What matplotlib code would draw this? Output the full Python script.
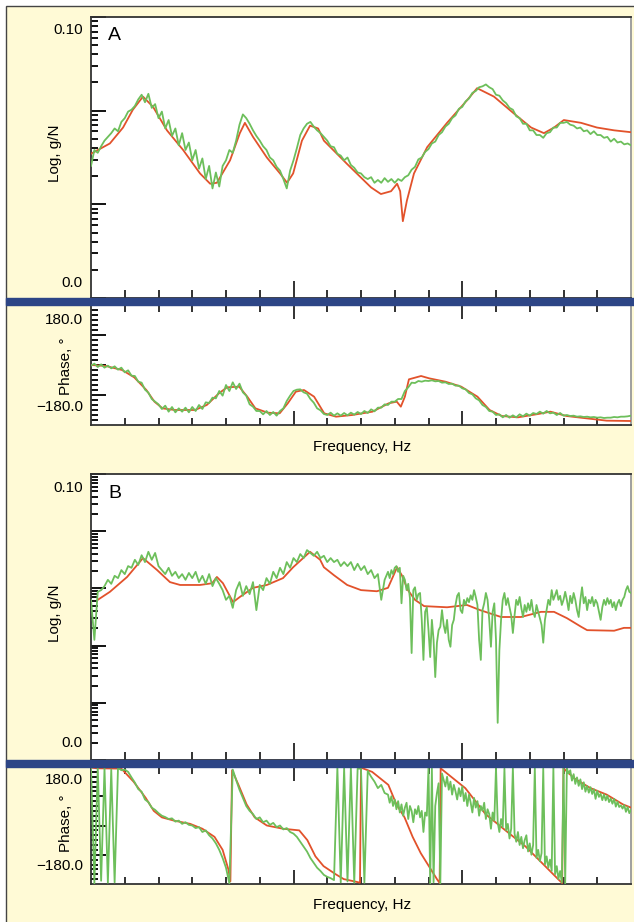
import numpy as np
import matplotlib.pyplot as plt
from matplotlib.patches import Rectangle
from matplotlib.ticker import FixedLocator, LogLocator, NullFormatter

plt.rcParams['font.family'] = ['Liberation Sans', 'DejaVu Sans']

W, H = 634, 922
CREAM = '#fffad6'
BAR = '#2d4586'
RED = '#e2522b'
GREEN = '#6dbf5b'
FRAME = '#333333'

# ---------------- panel A, magnitude (log10 of g/N) ----------------
freq_a_red = [0, 5.6, 9.5, 12.4, 15.4, 18.4, 22.5, 27.3, 32.3, 35.3,
              37.3, 41.2, 44.1, 45.6, 48.0, 52.1, 56.0, 58.1, 59.9, 62.5,
              64.9, 67.3, 69.0, 75.9, 83.0, 85.9, 88.9, 90.7, 91.6, 92.4,
              93.0, 93.6, 95.7, 99.6, 105.5, 111.4, 114.4, 119.4, 125.3, 130.4,
              134.2, 137.2, 140.1, 145.2, 149.9, 155.0, 160.0]
mag_a_red = [-2.46, -2.35, -2.18, -1.99, -1.85, -1.96, -2.21, -2.42, -2.67, -2.78,
             -2.77, -2.53, -2.24, -2.13, -2.28, -2.50, -2.67, -2.77, -2.67, -2.32,
             -2.16, -2.19, -2.32, -2.57, -2.82, -2.89, -2.86, -2.78, -2.86, -3.18,
             -3.07, -2.96, -2.67, -2.39, -2.13, -1.89, -1.76, -1.85, -2.03, -2.18,
             -2.24, -2.18, -2.10, -2.13, -2.18, -2.21, -2.23]

freq_a_green = np.arange(0, 161)
mag_a_green = [-2.59, -2.42, -2.45, -2.38, -2.32, -2.28, -2.24, -2.19, -2.22, -2.12,
               -2.08, -2.01, -1.99, -1.95, -1.88, -1.83, -1.91, -1.82, -1.97, -1.93,
               -2.08, -2.01, -2.19, -2.10, -2.27, -2.19, -2.37, -2.24, -2.42, -2.34,
               -2.53, -2.42, -2.62, -2.51, -2.73, -2.59, -2.83, -2.66, -2.81, -2.59,
               -2.53, -2.42, -2.45, -2.32, -2.15, -2.04, -2.08, -2.14, -2.21, -2.27,
               -2.32, -2.38, -2.42, -2.50, -2.53, -2.60, -2.64, -2.73, -2.83, -2.64,
               -2.53, -2.40, -2.26, -2.19, -2.14, -2.12, -2.17, -2.21, -2.24, -2.28,
               -2.32, -2.38, -2.39, -2.46, -2.48, -2.53, -2.50, -2.58, -2.61, -2.66,
               -2.67, -2.71, -2.73, -2.71, -2.77, -2.74, -2.77, -2.72, -2.76, -2.73,
               -2.77, -2.73, -2.75, -2.71, -2.69, -2.63, -2.60, -2.52, -2.50, -2.44,
               -2.41, -2.35, -2.33, -2.26, -2.23, -2.17, -2.14, -2.08, -2.05, -1.98,
               -1.96, -1.90, -1.87, -1.81, -1.79, -1.75, -1.74, -1.72, -1.75, -1.77,
               -1.83, -1.84, -1.89, -1.92, -1.97, -1.99, -2.06, -2.08, -2.14, -2.14,
               -2.21, -2.21, -2.26, -2.26, -2.29, -2.24, -2.23, -2.18, -2.18, -2.13,
               -2.13, -2.12, -2.15, -2.16, -2.19, -2.18, -2.22, -2.21, -2.25, -2.22,
               -2.26, -2.26, -2.29, -2.28, -2.33, -2.30, -2.34, -2.33, -2.36, -2.35,
               -2.37]

# ---------------- panel A, phase (degrees) ----------------
freq_pa_red = [0, 4.4, 9.2, 12.8, 16.4, 18.8, 21.2, 24.8, 30.8, 34.3,
               37.9, 40.3, 43.9, 46.3, 48.7, 52.3, 55.9, 58.3, 60.7, 63.1,
               66.1, 69.1, 72.6, 77.4, 83.4, 88.2, 90.6, 91.8, 93.0, 94.2,
               97.8, 100.2, 105.0, 109.7, 114.5, 118.1, 121.7, 126.5, 132.5, 136.1,
               140.9, 146.8, 152.8, 160.0]
phase_a_red = [0, -3, -15, -37, -75, -110, -130, -135, -135, -120,
               -85, -67, -65, -95, -130, -143, -145, -115, -80, -75,
               -95, -145, -155, -150, -140, -115, -110, -125, -95, -43,
               -33, -40, -50, -65, -95, -135, -153, -157, -147, -140,
               -153, -160, -167, -168]

phase_a_green = [-2, 4, -6, 2, -8, -2, -10, -4, -14, -8,
                 -22, -16, -32, -33, -50, -53, -74, -83, -102, -110,
                 -118, -132, -122, -140, -126, -142, -130, -140, -128, -142,
                 -126, -138, -120, -132, -112, -114, -98, -100, -78, -92,
                 -60, -78, -52, -72, -56, -82, -92, -118, -125, -138,
                 -138, -148, -138, -150, -141, -152, -138, -130, -108, -92,
                 -78, -74, -73, -82, -86, -102, -113, -130, -136, -147,
                 -150, -143, -152, -145, -152, -144, -151, -143, -149, -141,
                 -147, -138, -144, -133, -139, -128, -128, -118, -120, -110,
                 -110, -102, -102, -78, -67, -53, -54, -48, -50, -47,
                 -48, -46, -49, -48, -53, -52, -57, -56, -62, -62,
                 -70, -73, -84, -88, -100, -106, -120, -126, -138, -140,
                 -150, -148, -157, -150, -158, -151, -157, -148, -154, -146,
                 -152, -144, -147, -140, -146, -138, -145, -143, -150, -144,
                 -152, -150, -153, -152, -155, -154, -156, -155, -157, -156,
                 -158, -157, -159, -158, -158, -156, -157, -155, -155, -154,
                 -152]

# ---------------- panel B, magnitude (log10 of g/N) ----------------
freq_b_red = [2.0, 5.6, 10.7, 15.4, 19.6, 23.4, 26.4, 32.3, 35.9, 37.3,
              39.1, 42.1, 44.1, 48.0, 52.1, 56.9, 59.9, 64.9, 67.9, 69.0,
              72.0, 75.9, 80.0, 84.7, 88.0, 90.7, 92.1, 93.9, 96.0, 98.7,
              105.5, 111.4, 115.3, 121.5, 127.4, 133.3, 137.2, 141.0, 145.2, 147.0,
              155.0, 157.9, 160.0]
mag_b_red = [-3.20, -3.06, -2.80, -2.47, -2.68, -2.89, -2.94, -2.94, -2.91, -2.80,
             -2.91, -3.24, -3.15, -2.99, -2.94, -2.82, -2.63, -2.36, -2.50, -2.63,
             -2.77, -2.94, -3.03, -3.05, -2.99, -2.63, -2.77, -3.03, -3.20, -3.31,
             -3.33, -3.29, -3.38, -3.50, -3.50, -3.41, -3.41, -3.52, -3.67, -3.73,
             -3.74, -3.69, -3.69]

freq_b_green = np.concatenate([np.arange(0, 88), np.arange(88, 160.5, 0.5)])
mag_b_green = [-3.20, -3.90, -3.06, -3.03, -2.96, -2.85, -2.92, -2.78, -2.82, -2.68,
               -2.75, -2.61, -2.64, -2.50, -2.59, -2.42, -2.54, -2.36, -2.50, -2.38,
               -2.61, -2.68, -2.75, -2.64, -2.78, -2.71, -2.82, -2.75, -2.85, -2.73,
               -2.82, -2.71, -2.89, -2.78, -2.92, -2.75, -2.96, -2.82, -2.92, -3.03,
               -3.20, -3.13, -3.34, -3.03, -2.89, -3.13, -2.96, -3.10, -2.89, -3.38,
               -2.94, -3.03, -2.82, -2.92, -2.71, -2.82, -2.64, -2.75, -2.54, -2.64,
               -2.47, -2.54, -2.40, -2.47, -2.33, -2.38, -2.43, -2.36, -2.47, -2.43,
               -2.54, -2.47, -2.54, -2.50, -2.61, -2.54, -2.61, -2.54, -2.68, -2.57,
               -2.68, -2.61, -2.75, -2.68, -2.82, -2.75, -3.20, -2.85,
               # from 88 on, every half unit
               -2.71, -2.82, -2.68, -2.75, -2.64, -2.61, -2.71, -2.64, -3.26, -2.78,
               -2.85, -3.03, -2.92, -3.17, -4.13, -3.03, -2.98, -3.20, -3.10, -3.08,
               -3.55, -4.25, -3.41, -3.33, -3.73, -4.20, -3.55, -3.90, -4.55, -3.95,
               -3.73, -3.67, -3.38, -3.64, -3.78, -3.55, -3.90, -4.02, -3.64, -3.55,
               -3.29, -3.13, -3.08, -3.38, -3.43, -3.20, -3.29, -3.17, -3.24, -3.12,
               -3.20, -3.03, -3.15, -3.29, -3.90, -4.25, -3.38, -3.26, -3.08, -3.20,
               -3.55, -4.02, -3.41, -3.26, -3.90, -5.35, -4.08, -3.55, -3.20, -3.08,
               -3.29, -3.17, -3.33, -3.47, -3.78, -3.47, -3.20, -3.29, -3.15, -3.34,
               -3.50, -3.29, -3.41, -3.26, -3.38, -3.20, -3.41, -3.50, -3.29, -3.41,
               -3.52, -3.64, -3.95, -3.55, -3.38, -3.20, -3.29, -3.03, -3.20, -3.12,
               -3.03, -3.20, -3.13, -3.29, -3.20, -3.06, -3.20, -3.38, -3.13, -3.26,
               -3.08, -3.20, -3.38, -3.50, -3.20, -2.98, -3.26, -3.15, -3.38, -3.20,
               -3.26, -3.15, -3.31, -3.20, -3.26, -3.41, -3.55, -3.33, -3.20, -3.29,
               -3.17, -3.27, -3.20, -3.33, -3.24, -3.38, -3.26, -3.20, -3.31, -3.20,
               -3.15, -3.03, -2.96, -3.06, -3.08]

# ---------------- panel B, phase (degrees, wrapped) ----------------
freq_pb_red = [0, 1.8, 9.0, 12.6, 16.2, 18.6, 21.0, 24.6, 29.4, 33.0,
               36.6, 39.0, 40.7, 41.3, 41.8, 43.7, 46.1, 48.5, 52.1, 56.9,
               61.7, 64.1, 66.5, 68.9, 72.5, 74.9, 78.5, 79.7, 80.0, 83.3,
               88.1, 90.5, 92.9, 95.3, 97.7, 100.1, 102.5, 103.3, 103.6, 106.1,
               109.1, 110.9, 116.9, 122.8, 128.8, 133.6, 138.4, 139.6, 140.0, 143.2,
               148.0, 152.8, 157.6, 160.0]
phase_b_red = [178, 176, 175, 135, 85, 45, 25, 15, 5, -10,
               -35, -75, -135, -172, 170, 125, 65, 25, 0, -10,
               -15, -45, -95, -125, -150, -165, -173, -176, 178, 165,
               125, 65, 25, -35, -85, -125, -165, -177, 176, 155,
               130, 115, 35, -15, -65, -115, -165, -177, 176, 145,
               115, 95, 65, 55]

phase_b_green = [175, -178, 178, -170, 176, -176, 172, -175, 178, 170,
                 172, 165, 148, 132, 112, 104, 80, 72, 55, 48,
                 38, 30, 26, 20, 22, 12, 15, 5, 10, 2,
                 0, -8, -5, -20, -15, -30, -40, -55, -75, -100,
                 -130, -178, 172, 140, 110, 85, 60, 45, 35, 20,
                 25, 10, 15, 2, 8, -5, 0, -12, -8, -20,
                 -25, -35, -50, -65, -80, -100, -115, -130, -140, -152,
                 -158, -162, -168, 178, -175, 176, -172, 178, -176, 175,
                 175, -176, 168, 150, 135, 115, 125, 100,
                 # from 88 on, every half unit
                 95, 70, 90, 60, 80, 50, 75, 40, 65, 30,
                 55, 70, 20, 60, 45, 10, 50, 35, 60, 25,
                 45, -20, 40, 30, 178, -178, 175, -175, 60, 100,
                 130, -178, 160, 140, 120, 150, 110, 135, 95, 125,
                 105, 80, 115, 90, 120, 75, 100, 60, 95, 70,
                 40, 85, 55, 75, 30, 60, 45, 70, 20, 50,
                 35, -10, 40, 15, 178, 10, -20, 20, -5, 175,
                 -15, 5, -40, -10, 178, -25, -50, -20, -60, -35,
                 -70, -45, -30, -80, -55, -90, -60, 178, -100, -75,
                 -110, -85, 175, -120, -95, -130, -105, -140, 178, -150,
                 -125, -165, -140, -175, 178, -178, 176, 160, 170, 138,
                 158, 128, 148, 122, 142, 112, 133, 104, 122, 101,
                 118, 97, 112, 82, 107, 88, 98, 78, 96, 77,
                 92, 72, 83, 67, 82, 58, 73, 57, 62, 52,
                 63, 42, 57, 38, 48]


def fx(px):
    return px / W


def fy(py):
    return 1 - py / H


fig = plt.figure(figsize=(W / 100, H / 100), dpi=100, facecolor='white')

# cream panel with thin frame
fig.add_artist(Rectangle((fx(6), fy(960)), fx(700), fy(6) - fy(960),
                         transform=fig.transFigure, facecolor=CREAM,
                         edgecolor='#444444', lw=1.0, zorder=-5))


def new_axes(top, bottom):
    ax = fig.add_axes([fx(91), fy(bottom), 540 / W, (bottom - top) / H])
    ax.set_facecolor('white')
    for side, sp in ax.spines.items():
        sp.set_color('#999999' if side == 'right' else FRAME)
        sp.set_linewidth(1.3)
    ax.set_xlim(0, 160)
    ax.xaxis.set_major_locator(FixedLocator([60, 110]))
    ax.xaxis.set_minor_locator(FixedLocator([v for v in range(10, 160, 10) if v not in (60, 110)]))
    ax.xaxis.set_major_formatter(NullFormatter())
    ax.xaxis.set_minor_formatter(NullFormatter())
    return ax


def style_mag(ax):
    ax.set_yscale('log')
    ax.yaxis.set_major_locator(LogLocator(base=10, numticks=12))
    ax.yaxis.set_minor_locator(LogLocator(base=10, subs=np.arange(2, 10), numticks=12))
    ax.yaxis.set_major_formatter(NullFormatter())
    ax.yaxis.set_minor_formatter(NullFormatter())
    ax.tick_params(axis='x', which='both', direction='in', bottom=True, top=False,
                   labelbottom=False, color='#222222', width=1.3)
    ax.tick_params(axis='x', which='major', length=12)
    ax.tick_params(axis='x', which='minor', length=6)
    ax.tick_params(axis='y', which='both', direction='in', left=True, right=False,
                   labelleft=False, color='#111111', width=1.4)
    ax.tick_params(axis='y', which='major', length=11)
    ax.tick_params(axis='y', which='minor', length=5)


def style_phase(ax):
    ax.set_ylim(-180, 180)
    ax.yaxis.set_major_locator(FixedLocator([-90, 0, 90]))
    ax.yaxis.set_minor_locator(FixedLocator([v for v in range(-165, 180, 15) if v % 90 != 0]))
    ax.yaxis.set_major_formatter(NullFormatter())
    ax.yaxis.set_minor_formatter(NullFormatter())
    ax.tick_params(axis='x', which='both', direction='in', bottom=True, top=True,
                   labelbottom=False, color='#222222', width=1.3)
    ax.tick_params(axis='x', which='major', length=10)
    ax.tick_params(axis='x', which='minor', length=5)
    ax.tick_params(axis='y', which='both', direction='in', left=True, right=False,
                   labelleft=False, color='#111111', width=1.4)
    ax.tick_params(axis='y', which='major', length=11)
    ax.tick_params(axis='y', which='minor', length=5)


panels = [
    dict(mag=(17, 298), ph=(305, 425), bar=(298, 305), ylim=(1e-4, 1e-1), letter='A',
         red=(freq_a_red, mag_a_red), green=(freq_a_green, mag_a_green),
         pred=(freq_pa_red, phase_a_red), pgreen=(freq_a_green, phase_a_green),
         lab_top=30, lab_bot=283, log_y=153, ph_top=320, ph_bot=407, ph_y=366, freq_y=447),
    dict(mag=(474, 760), ph=(767, 884), bar=(760, 767), ylim=(1e-6, 1e-1), letter='B',
         red=(freq_b_red, mag_b_red), green=(freq_b_green, mag_b_green),
         pred=(freq_pb_red, phase_b_red), pgreen=(freq_b_green, phase_b_green),
         lab_top=488, lab_bot=743, log_y=613, ph_top=780, ph_bot=866, ph_y=823, freq_y=905),
]

for p in panels:
    axm = new_axes(*p['mag'])
    style_mag(axm)
    axm.set_ylim(*p['ylim'])
    axm.plot(p['red'][0], 10.0 ** np.array(p['red'][1]), color=RED, lw=1.3, zorder=3)
    axm.plot(p['green'][0], 10.0 ** np.array(p['green'][1]), color=GREEN, lw=1.3, zorder=4)

    axp = new_axes(*p['ph'])
    style_phase(axp)
    axp.plot(p['pred'][0], p['pred'][1], color=RED, lw=1.3, zorder=3)
    axp.plot(p['pgreen'][0], p['pgreen'][1], color=GREEN, lw=1.3, zorder=4)

    # blue divider bar across the panel
    b0, b1 = p['bar']
    fig.add_artist(Rectangle((fx(6), fy(b1)), 1.0, (b1 - b0) / H,
                             transform=fig.transFigure, color=BAR, zorder=10))

    top = p['mag'][0]
    fig.text(fx(108), fy(top + 19), p['letter'], fontsize=14, ha='left', va='center')
    fig.text(fx(83), fy(p['lab_top']), '0.10', fontsize=11, ha='right', va='center')
    fig.text(fx(83), fy(p['lab_bot']), '0.0', fontsize=11, ha='right', va='center')
    fig.text(fx(55), fy(p['log_y']), 'Log, g/N', fontsize=11, rotation=90,
             ha='center', va='center')
    fig.text(fx(83), fy(p['ph_top']), '180.0', fontsize=11, ha='right', va='center')
    fig.text(fx(83), fy(p['ph_bot']), '\u2212180.0', fontsize=11, ha='right', va='center')
    fig.text(fx(66), fy(p['ph_y']), 'Phase, \u00b0', fontsize=11, rotation=90,
             ha='center', va='center')
    fig.text(fx(362), fy(p['freq_y']), 'Frequency, Hz', fontsize=11,
             ha='center', va='center')

fig.savefig('out.png', dpi=100, facecolor=fig.get_facecolor())
